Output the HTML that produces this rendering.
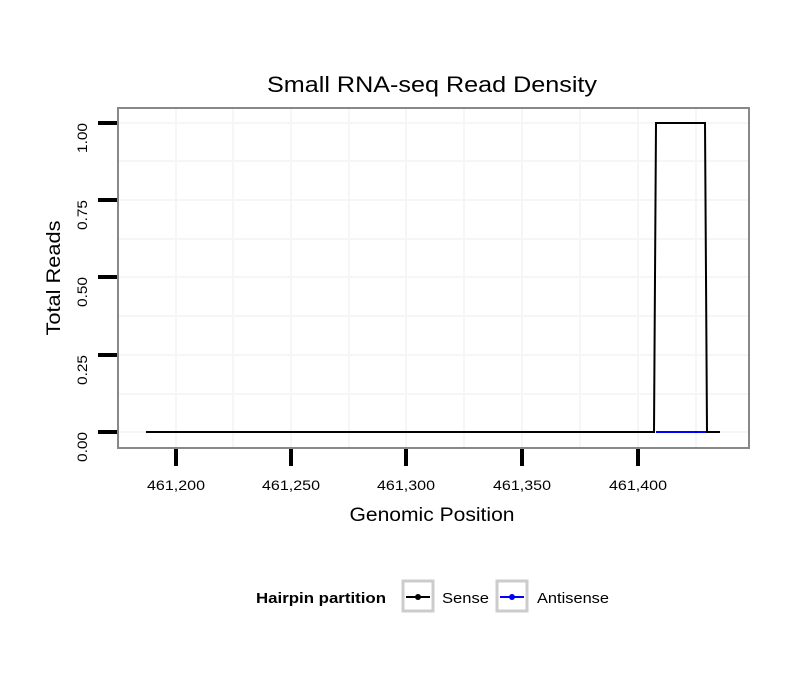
<!DOCTYPE html>
<html><head><style>body{margin:0;background:#fff}</style></head><body>
<svg width="810" height="690" xmlns="http://www.w3.org/2000/svg" font-family="Liberation Sans, sans-serif">
<rect width="810" height="690" fill="#fff"/>
<g stroke="#f6f6f6" stroke-width="2">
<line x1="176" y1="108" x2="176" y2="448"/><line x1="291" y1="108" x2="291" y2="448"/><line x1="406" y1="108" x2="406" y2="448"/><line x1="522" y1="108" x2="522" y2="448"/><line x1="638" y1="108" x2="638" y2="448"/>
<line x1="233" y1="108" x2="233" y2="448"/><line x1="349" y1="108" x2="349" y2="448"/><line x1="464" y1="108" x2="464" y2="448"/><line x1="580" y1="108" x2="580" y2="448"/><line x1="696" y1="108" x2="696" y2="448"/>
<line x1="117" y1="123" x2="749" y2="123"/><line x1="117" y1="200" x2="749" y2="200"/><line x1="117" y1="277" x2="749" y2="277"/><line x1="117" y1="355" x2="749" y2="355"/><line x1="117" y1="432" x2="749" y2="432"/>
<line x1="117" y1="161" x2="749" y2="161"/><line x1="117" y1="239" x2="749" y2="239"/><line x1="117" y1="316" x2="749" y2="316"/><line x1="117" y1="394" x2="749" y2="394"/>
</g>
<rect x="118" y="108" width="631" height="340" fill="none" stroke="#888" stroke-width="2"/>
<polyline points="146,432 654,432 656,123 705,123 707,432 720,432" fill="none" stroke="#000" stroke-width="2"/>
<line x1="656" y1="432" x2="706" y2="432" stroke="#00f" stroke-width="2"/>
<g stroke="#000" stroke-width="4">
<line x1="98" y1="123" x2="117" y2="123"/><line x1="98" y1="200" x2="117" y2="200"/><line x1="98" y1="277" x2="117" y2="277"/><line x1="98" y1="355" x2="117" y2="355"/><line x1="98" y1="432" x2="117" y2="432"/>
<line x1="176" y1="449" x2="176" y2="466"/><line x1="291" y1="449" x2="291" y2="466"/><line x1="406" y1="449" x2="406" y2="466"/><line x1="522" y1="449" x2="522" y2="466"/><line x1="638" y1="449" x2="638" y2="466"/>
</g>
<g font-size="14" fill="#000" text-anchor="middle">
<text x="176" y="490" textLength="58" lengthAdjust="spacingAndGlyphs">461,200</text><text x="291" y="490" textLength="58" lengthAdjust="spacingAndGlyphs">461,250</text><text x="406" y="490" textLength="58" lengthAdjust="spacingAndGlyphs">461,300</text><text x="522" y="490" textLength="58" lengthAdjust="spacingAndGlyphs">461,350</text><text x="638" y="490" textLength="58" lengthAdjust="spacingAndGlyphs">461,400</text>
</g>
<g font-size="14" fill="#000" text-anchor="middle">
<text transform="translate(87,138) rotate(-90)" textLength="30" lengthAdjust="spacingAndGlyphs">1.00</text><text transform="translate(87,215) rotate(-90)" textLength="30" lengthAdjust="spacingAndGlyphs">0.75</text><text transform="translate(87,292) rotate(-90)" textLength="30" lengthAdjust="spacingAndGlyphs">0.50</text><text transform="translate(87,370) rotate(-90)" textLength="30" lengthAdjust="spacingAndGlyphs">0.25</text><text transform="translate(87,447) rotate(-90)" textLength="30" lengthAdjust="spacingAndGlyphs">0.00</text>
</g>
<text x="432" y="92" font-size="22" text-anchor="middle" textLength="330" lengthAdjust="spacingAndGlyphs">Small RNA-seq Read Density</text>
<text x="432" y="521" font-size="19" text-anchor="middle" textLength="165" lengthAdjust="spacingAndGlyphs">Genomic Position</text>
<text transform="translate(60,278) rotate(-90)" font-size="19" text-anchor="middle" textLength="115" lengthAdjust="spacingAndGlyphs">Total Reads</text>
<text x="256" y="603" font-size="15" font-weight="bold" textLength="130" lengthAdjust="spacingAndGlyphs">Hairpin partition</text>
<rect x="403" y="581" width="30" height="30" fill="#fff" stroke="#ccc" stroke-width="3"/>
<line x1="406" y1="597" x2="430" y2="597" stroke="#000" stroke-width="2"/><circle cx="418" cy="597" r="3" fill="#000"/>
<text x="442" y="603" font-size="15" textLength="47" lengthAdjust="spacingAndGlyphs">Sense</text>
<rect x="497" y="581" width="30" height="30" fill="#fff" stroke="#ccc" stroke-width="3"/>
<line x1="500" y1="597" x2="524" y2="597" stroke="#00f" stroke-width="2"/><circle cx="512" cy="597" r="3" fill="#00f"/>
<text x="537" y="603" font-size="15" textLength="72" lengthAdjust="spacingAndGlyphs">Antisense</text>
</svg>
</body></html>
